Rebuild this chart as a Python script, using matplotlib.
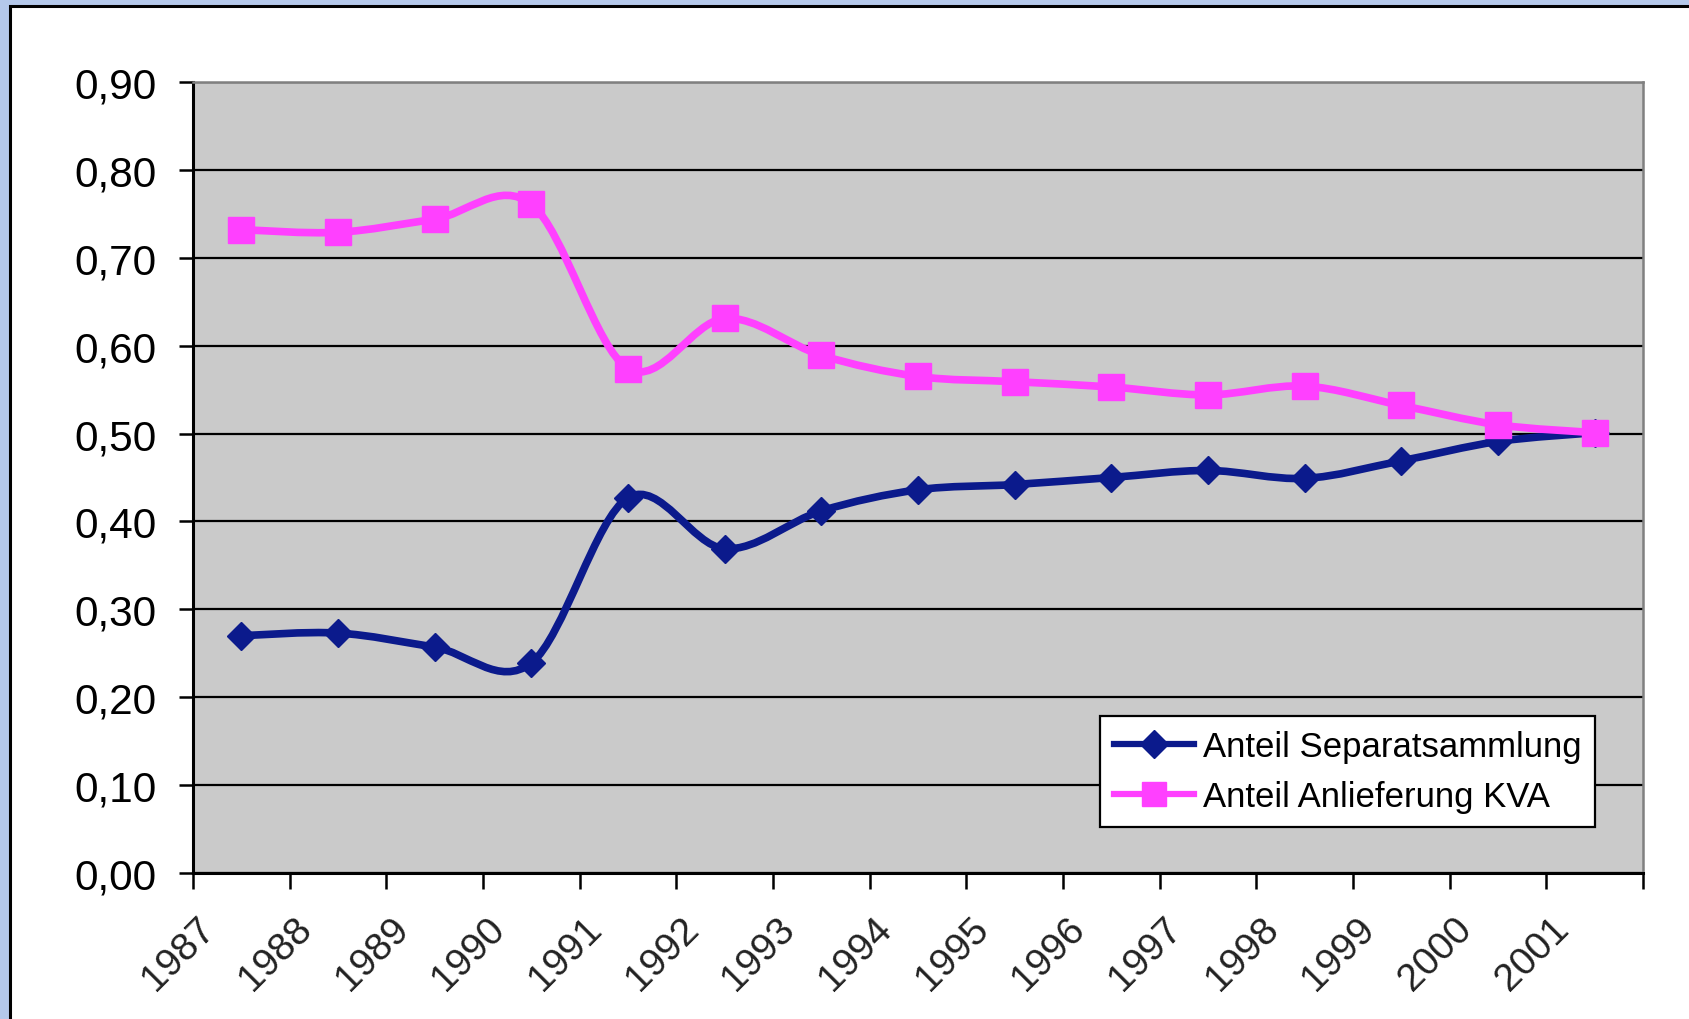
import matplotlib.pyplot as plt
import numpy as np
from matplotlib.path import Path
from matplotlib.patches import PathPatch, Rectangle
from matplotlib.lines import Line2D
from matplotlib.ticker import NullFormatter

years = ['1987', '1988', '1989', '1990', '1991', '1992', '1993', '1994',
         '1995', '1996', '1997', '1998', '1999', '2000', '2001']
separat = [0.270, 0.273, 0.257, 0.239, 0.427, 0.369, 0.412, 0.436,
           0.442, 0.450, 0.458, 0.449, 0.469, 0.491, 0.501]
kva = [0.732, 0.729, 0.744, 0.761, 0.574, 0.631, 0.589, 0.565,
       0.559, 0.553, 0.544, 0.554, 0.532, 0.510, 0.501]
yticks = [0.0, 0.1, 0.2, 0.3, 0.4, 0.5, 0.6, 0.7, 0.8, 0.9]

BLUE = '#0b1a8c'
PINK = '#ff40ff'

plt.rcParams['font.family'] = ['Liberation Sans', 'DejaVu Sans']


def smooth_path(x, y):
    # cubic bezier segments through the points (catmull-rom style tangents)
    pts = np.column_stack([x, y])
    n = len(pts)
    verts = [pts[0]]
    codes = [Path.MOVETO]
    for i in range(n - 1):
        p0 = pts[max(i - 1, 0)]
        p1 = pts[i]
        p2 = pts[i + 1]
        p3 = pts[min(i + 2, n - 1)]
        c1 = p1 + (p2 - p0) / 6.0
        c2 = p2 - (p3 - p1) / 6.0
        verts += [c1, c2, p2]
        codes += [Path.CURVE4] * 3
    return Path(verts, codes)


fig = plt.figure(figsize=(16.9, 10.2), dpi=100)

# window-like frame round the chart
fig.add_artist(Rectangle((0, 0), 1, 1, transform=fig.transFigure,
                         facecolor='#b4c8ea', edgecolor='none', zorder=-10))
fig.add_artist(Rectangle((10 / 1690, -0.01), 1.1, 1 - 7 / 1020 + 0.01,
                         transform=fig.transFigure, facecolor='white',
                         edgecolor='black', linewidth=2.2, zorder=-9))

ax = fig.add_axes([193 / 1690, 1 - 874 / 1020, 1450 / 1690, 791 / 1020])
ax.set_facecolor('#cacaca')

x = np.arange(len(years)) + 0.5

ax.add_patch(PathPatch(smooth_path(x, separat), fill=False, edgecolor=BLUE,
                       linewidth=5.5, capstyle='round', joinstyle='round', zorder=3))
ax.plot(x, separat, ls='none', marker='D', ms=14, color=BLUE, mec=BLUE, zorder=4)
ax.add_patch(PathPatch(smooth_path(x, kva), fill=False, edgecolor=PINK,
                       linewidth=5.5, capstyle='round', joinstyle='round', zorder=5))
ax.plot(x, kva, ls='none', marker='s', ms=19, color=PINK, mec=PINK, zorder=6)

ax.set_xlim(0, len(years))
ax.set_ylim(0, 0.9)

ax.set_yticks(yticks)
ax.set_yticklabels([f'{v:.2f}'.replace('.', ',') for v in yticks], fontsize=30.5)
ax.yaxis.grid(True, color='black', linewidth=1.6)
ax.set_axisbelow(True)

# tick marks on category boundaries, year labels slightly right of them
ax.set_xticks(np.arange(len(years) + 1))
ax.xaxis.set_major_formatter(NullFormatter())
ax.set_xticks(np.arange(len(years)) + 0.17, minor=True)
ax.set_xticklabels(years, minor=True, fontsize=28, rotation=45, ha='right',
                   va='center', rotation_mode='anchor', color='#222222')
ax.tick_params(axis='x', which='major', length=11.5, width=1.8)
ax.tick_params(axis='x', which='minor', length=0, pad=36)
ax.tick_params(axis='y', length=10, width=1.8, pad=16)

for side in ['left', 'bottom']:
    ax.spines[side].set_linewidth(2.2)
    ax.spines[side].set_color('black')
for side in ['top', 'right']:
    ax.spines[side].set_linewidth(1.8)
    ax.spines[side].set_color('#808080')

handles = [
    Line2D([], [], color=BLUE, lw=4.5, marker='D', ms=14, mec=BLUE),
    Line2D([], [], color=PINK, lw=4.5, marker='s', ms=17, mec=PINK),
]
leg = ax.legend(handles, ['Anteil Separatsammlung', 'Anteil Anlieferung KVA'],
                loc='lower right', bbox_to_anchor=(0.967, 0.058), fontsize=25,
                frameon=True, fancybox=False, framealpha=1, edgecolor='black',
                handlelength=2.3, handletextpad=0.25, labelspacing=0.5,
                borderpad=0.4, borderaxespad=0)
leg.get_frame().set_linewidth(1.6)

fig.savefig('out.png', dpi=100)
